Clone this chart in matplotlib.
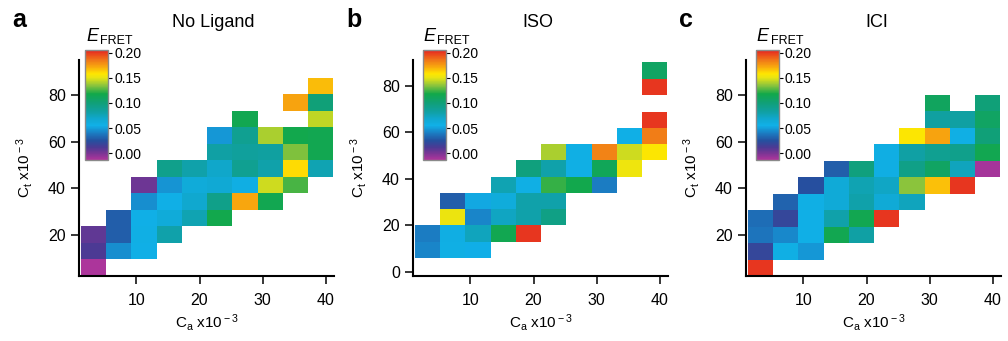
import numpy as np
import matplotlib
matplotlib.use("Agg")
import matplotlib.pyplot as plt
from matplotlib.colors import LinearSegmentedColormap, Normalize

n = np.nan

# bin edges (Ca x10^-3 along x, Ct x10^-3 along y)
x_edges = [1.2, 5.2, 9.2, 13.2, 17.2, 21.2, 25.2, 29.2, 33.2, 37.2, 41.2]
y_edges_a = [2.3, 9.4, 16.5, 23.6, 30.7, 37.8, 44.9, 52.0, 59.1, 66.2, 73.3, 80.4, 87.5]
y_edges_b = [5.9, 13.0, 20.0, 27.0, 34.0, 41.0, 48.0, 55.0, 62.0, 69.0, 76.0, 83.1, 90.2]
y_edges_c = [2.2, 9.3, 16.4, 23.5, 30.6, 37.7, 44.8, 51.9, 59.0, 66.1, 73.2, 80.3, 87.4]

# E_FRET per bin, rows written top -> bottom
efret_a = [
    [n, n, n, n, n, n, n, n, n, 0.167],
    [n, n, n, n, n, n, n, n, 0.173, 0.100],
    [n, n, n, n, n, n, 0.115, n, n, 0.143],
    [n, n, n, n, n, 0.048, 0.090, 0.140, 0.117, 0.115],
    [n, n, n, n, n, 0.082, 0.085, 0.084, 0.133, 0.115],
    [n, n, n, 0.092, 0.080, 0.070, 0.090, 0.080, 0.160, 0.078],
    [n, n, 0.004, 0.047, 0.063, 0.066, 0.058, 0.146, 0.125, n],
    [n, n, 0.045, 0.056, 0.068, 0.093, 0.172, 0.115, n, n],
    [n, 0.030, 0.056, 0.063, 0.078, 0.117, n, n, n, n],
    [0.007, 0.030, 0.057, 0.080, n, n, n, n, n, n],
    [0.012, 0.045, 0.056, n, n, n, n, n, n, n],
    [-0.012, n, n, n, n, n, n, n, n, n],
]
efret_b = [
    [n, n, n, n, n, n, n, n, n, 0.108],
    [n, n, n, n, n, n, n, n, n, 0.200],
    [n, n, n, n, n, n, n, n, n, n],
    [n, n, n, n, n, n, n, n, n, 0.200],
    [n, n, n, n, n, n, n, n, 0.056, 0.183],
    [n, n, n, n, n, 0.140, 0.057, 0.182, 0.146, 0.157],
    [n, n, n, n, 0.098, 0.080, 0.057, 0.113, 0.153, n],
    [n, n, n, 0.078, 0.057, 0.123, 0.117, 0.040, n, n],
    [n, 0.030, 0.053, 0.062, 0.080, 0.080, n, n, n, n],
    [n, 0.152, 0.043, 0.073, 0.080, 0.095, n, n, n, n],
    [0.040, 0.058, 0.074, 0.115, 0.200, n, n, n, n, n],
    [0.043, 0.057, 0.055, n, n, n, n, n, n, n],
]
efret_c = [
    [n, n, n, n, n, n, n, n, n, n],
    [n, n, n, n, n, n, n, 0.110, n, 0.100],
    [n, n, n, n, n, n, n, 0.084, 0.083, 0.108],
    [n, n, n, n, n, n, 0.157, 0.173, 0.057, 0.100],
    [n, n, n, n, n, 0.058, 0.082, 0.090, 0.092, 0.115],
    [n, n, n, 0.030, 0.098, 0.058, 0.094, 0.108, 0.074, -0.010],
    [n, n, 0.025, 0.064, 0.078, 0.072, 0.135, 0.166, 0.200, n],
    [n, 0.032, 0.057, 0.064, 0.080, 0.065, 0.074, n, n, n],
    [0.035, 0.020, 0.056, 0.080, 0.115, 0.200, n, n, n, n],
    [0.038, 0.044, 0.056, 0.115, 0.082, n, n, n, n, n],
    [0.020, 0.057, 0.048, n, n, n, n, n, n, n],
    [0.200, n, n, n, n, n, n, n, n, n],
]

cbar_ticks = [0.00, 0.05, 0.10, 0.15, 0.20]
vmin, vmax = -0.013, 0.205

# rainbow colour scale
cmap_nodes = [-0.013, 0.0, 0.012, 0.025, 0.040, 0.055, 0.068, 0.082,
              0.100, 0.118, 0.135, 0.150, 0.158, 0.172, 0.185, 0.205]
cmap_colors = ["#b0359c", "#7a3594", "#4b3a94", "#25509f", "#1b7cc2", "#10b0e8",
               "#10a8d0", "#10a0a4", "#10a078", "#12a84a", "#8cc43c", "#e6e414",
               "#ffe600", "#f8a80e", "#f07818", "#e52421"]
pos = [(v - vmin) / (vmax - vmin) for v in cmap_nodes]
cmap = LinearSegmentedColormap.from_list("efret", list(zip(pos, cmap_colors)))
norm = Normalize(vmin=vmin, vmax=vmax)

plt.rcParams["font.family"] = ["Liberation Sans", "DejaVu Sans"]
plt.rcParams["mathtext.fontset"] = "custom"
plt.rcParams["mathtext.rm"] = "Liberation Sans"
plt.rcParams["mathtext.it"] = "Liberation Sans:italic"

W, H = 1008, 341
fig = plt.figure(figsize=(W / 100, H / 100), dpi=100)


def px_rect(l, t, r, b):
    return [l / W, 1 - b / H, (r - l) / W, (b - t) / H]


panels = [
    # letter, title, data, y edges, ylim, yticks, axes left px, cbar left px, title x px
    ("a", "No Ligand", efret_a, y_edges_a, (2.3, 95.1), [20, 40, 60, 80], 79, 85, 213),
    ("b", "ISO", efret_b, y_edges_b, (-1.8, 91.2), [0, 20, 40, 60, 80], 413, 422.5, 538),
    ("c", "ICI", efret_c, y_edges_c, (2.2, 95.2), [20, 40, 60, 80], 746, 755.5, 877),
]

for letter, title, data, y_edges, ylim, yticks, left, cb_left, tx in panels:
    ax = fig.add_axes(px_rect(left, 60, left + 255, 276))
    z = np.ma.masked_invalid(np.array(data)[::-1])
    mesh = ax.pcolormesh(x_edges, y_edges, z, cmap=cmap, norm=norm)

    ax.set_xlim(0.9, 41.3)
    ax.set_ylim(*ylim)
    ax.set_xticks([10, 20, 30, 40])
    ax.set_yticks(yticks)
    for s in ["top", "right"]:
        ax.spines[s].set_visible(False)
    for s in ["left", "bottom"]:
        ax.spines[s].set_linewidth(1.5)
    ax.tick_params(direction="out", length=6, width=1.1, labelsize=11.5)
    ax.tick_params(axis="x", pad=6)
    ax.tick_params(axis="y", pad=3.5)
    ax.set_xlabel(r"C$_{\rm a}$ x10$^{\rm -3}$", fontsize=11, labelpad=3)
    ax.set_ylabel(r"C$_{\rm t}$ x10$^{\rm -3}$", fontsize=11, labelpad=9)

    # colour bar inside the panel
    cax = fig.add_axes(px_rect(cb_left, 50, cb_left + 23, 160))
    cb = fig.colorbar(mesh, cax=cax, ticks=cbar_ticks)
    cb.ax.yaxis.set_major_formatter("{x:.2f}")
    cb.outline.set_edgecolor("#8a8a8a")
    cb.outline.set_linewidth(1)
    cax.tick_params(length=3, width=0.8, labelsize=10, pad=1.5)

    fig.text((cb_left + 1) / W, 1 - 41 / H, "E", fontsize=13, style="italic")
    fig.text((cb_left + 15) / W, 1 - 43.5 / H, "FRET", fontsize=9)

    fig.text(tx / W, 1 - 27 / H, title, fontsize=13, ha="center")
    fig.text((left - 67) / W, 1 - 27 / H, letter, fontsize=18, fontweight="bold")

fig.savefig("out.png", dpi=100)
